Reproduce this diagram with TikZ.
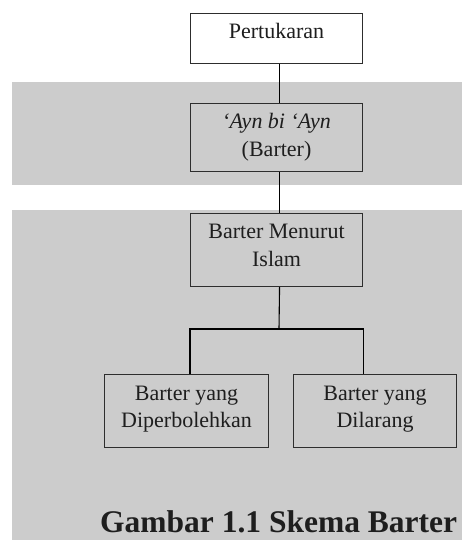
\documentclass[tikz,border=0pt]{standalone}
\usepackage{fontspec}
\setmainfont{Liberation Serif}
\definecolor{bandgray}{RGB}{204,204,204}
\definecolor{boxline}{RGB}{45,45,45}
\definecolor{txt}{RGB}{30,30,30}
\begin{document}
\begin{tikzpicture}[x=1pt,y=-1pt,
  boxnode/.style={draw=boxline, line width=1.1pt, rectangle, inner sep=0pt, anchor=north west},
  boxtext/.style={anchor=north, inner sep=0pt, align=center, text=txt,
    font=\fontsize{22}{27.5}\selectfont},
  conn/.style={draw=black, line width=1.1pt}]
\useasboundingbox (0,0) rectangle (462,540);
\fill[white] (0,0) rectangle (462,540);
% gray bands
\fill[bandgray] (12,82) rectangle (462,185);
\fill[bandgray] (12,210) rectangle (462,540);
% boxes
\node[boxnode, fill=white, minimum width=172pt, minimum height=50pt] (b1) at (190,13) {};
\node[boxnode, minimum width=172pt, minimum height=68pt] (b2) at (190,103) {};
\node[boxnode, minimum width=172pt, minimum height=73pt] (b3) at (190,213) {};
\node[boxnode, minimum width=164pt, minimum height=73pt] (b4) at (104,374) {};
\node[boxnode, minimum width=163pt, minimum height=73pt] (b5) at (293,374) {};
% texts
\node[boxtext] (t1) at ([yshift=-6.5pt]b1.north) {\strut Pertukaran};
\node[boxtext] (t2) at ([yshift=-6.5pt]b2.north) {\strut\textit{`Ayn bi `Ayn}\\(Barter)};
\node[boxtext] (t3) at ([yshift=-6.5pt]b3.north) {\strut Barter Menurut\\Islam};
\node[boxtext] (t4) at ([yshift=-7pt]b4.north) {\strut Barter yang\\Diperbolehkan};
\node[boxtext] (t5) at ([yshift=-7pt]b5.north) {\strut Barter yang\\Dilarang};
% connectors
\coordinate (fork) at (279,329);
\draw[conn] ([xshift=3pt]b1.south) -- ([xshift=3pt]b2.north);
\draw[conn] ([xshift=3pt]b2.south) -- ([xshift=3pt]b3.north);
\draw[conn] ([xshift=3pt]b3.south) -- (fork);
\draw[conn] (b4.north -| b3.west) |- (fork) -| (b5.north -| b3.east);
% caption
\node[anchor=base west, inner sep=0pt, text=txt, font=\fontsize{31.5}{36}\selectfont\bfseries] (cap) at (100,532) {Gambar 1.1 Skema Barter};
\end{tikzpicture}
\end{document}
